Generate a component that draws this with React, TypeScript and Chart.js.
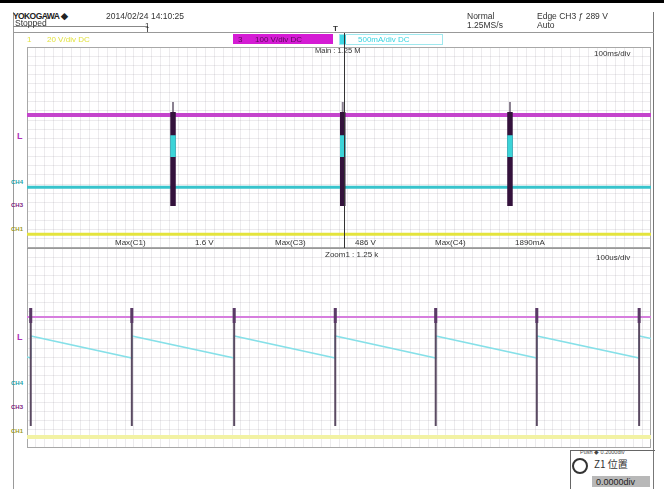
import React, { useEffect, useRef } from "react";
import { Chart, registerables } from "chart.js";
Chart.register(...registerables);

// ---- Main window (upper): time in ms, 100 ms/div ----
const mainRange = [0, 1000];
const mainSpikeTimes = [234, 506, 774];
const mainCh3Level = 1.29;
const mainCh4Level = -1.58;
const mainCh1Level = -3.45;
const mainBurstTop = 1.41;
const mainBurstBottom = -2.33;
const mainCapTop = 1.81;
const mainCh4BurstTop = 0.49;
const mainCh4BurstBottom = -0.38;

// ---- Zoom window (lower): time in us, 100 us/div ----
const zoomRange = [0, 1000];
const zoomSpikeTimes = [6, 168, 332, 494, 655, 817, 981];
const zoomCh3Level = 1.24;
const zoomSpikeTop = 1.6;
const zoomSpikeBottom = -3.12;
const zoomSpikeHeadBottom = 1.0;
const zoomCh1Level = -3.56;
const zoomCh4Times = [0, 6, 6, 168, 168, 332, 332, 494, 494, 655, 655, 817, 817, 981, 981, 1000];
const zoomCh4Values = [-0.36, -0.4, 0.48, -0.4, 0.48, -0.4, 0.48, -0.4, 0.48, -0.4, 0.48, -0.4, 0.48, -0.4, 0.48, 0.38];

// ---- Measurements ----
const measureNames = ["Max(C1)", "Max(C3)", "Max(C4)"];
const measureValues = ["1.6 V", "486 V", "1890mA"];

const flat = (range: number[], y: number) => [
  { x: range[0], y },
  { x: range[1], y },
];
const verticals = (times: number[], top: number, bottom: number) =>
  times.flatMap((t) => [
    { x: t, y: top },
    { x: t, y: bottom },
    { x: t, y: null as any },
  ]);

const framePlugin = {
  id: "frame",
  beforeDatasetsDraw(chart: any) {
    const { ctx, chartArea } = chart;
    const { left, top, right, bottom } = chartArea;
    ctx.save();
    ctx.strokeStyle = "#a8a8a8";
    ctx.lineWidth = 1;
    ctx.strokeRect(left + 0.5, top + 0.5, right - left - 1, bottom - top - 1);
    ctx.restore();
  },
};

function makeOptions(range: number[]) {
  return {
    responsive: false,
    maintainAspectRatio: false,
    animation: false as const,
    layout: { padding: 0 },
    plugins: { legend: { display: false }, tooltip: { enabled: false } },
    elements: { point: { radius: 0 }, line: { tension: 0 } },
    scales: {
      x: {
        type: "linear" as const,
        min: range[0],
        max: range[1],
        ticks: { display: false, count: 71 },
        grid: { color: "rgba(120,110,130,0.14)", drawTicks: false },
        border: { display: false },
      },
      y: {
        type: "linear" as const,
        min: -4,
        max: 4,
        ticks: { display: false, count: 23 },
        grid: { color: "rgba(120,110,130,0.14)", drawTicks: false },
        border: { display: false },
      },
    },
  };
}

// "order": higher value is drawn first (underneath)
function line(data: any[], color: string, width: number, order: number) {
  return {
    data,
    order,
    borderColor: color,
    backgroundColor: color,
    borderWidth: width,
    pointRadius: 0,
    spanGaps: false,
    fill: false,
  };
}

function Panel({ left, top, width, height, datasets, range }: any) {
  const ref = useRef<HTMLCanvasElement>(null);
  useEffect(() => {
    const chart = new Chart(ref.current!, {
      type: "line",
      data: { datasets },
      options: makeOptions(range) as any,
      plugins: [framePlugin],
    });
    return () => chart.destroy();
  }, []);
  return (
    <canvas
      ref={ref}
      width={width}
      height={height}
      style={{ position: "absolute", left, top, width, height }}
    />
  );
}

function T({ x, y, children, size = 8.5, color = "#333", style = {} }: any) {
  return (
    <div
      style={{
        position: "absolute",
        left: x,
        top: y,
        fontSize: size,
        lineHeight: 1,
        color,
        whiteSpace: "nowrap",
        fontFamily: "'Liberation Sans', Arial, sans-serif",
        zIndex: 3,
        ...style,
      }}
    >
      {children}
    </div>
  );
}

function Box({ x, y, w, h, style = {} }: any) {
  return (
    <div
      style={{ position: "absolute", left: x, top: y, width: w, height: h, zIndex: 2, ...style }}
    />
  );
}

export default function App() {
  const mainDatasets = [
    line(flat(mainRange, mainCh1Level), "#e4e43c", 3, 6),
    line(flat(mainRange, mainCh4Level), "#38c4cc", 3, 5),
    line(flat(mainRange, mainCh3Level), "#c444cc", 4, 4),
    line(verticals(mainSpikeTimes, mainCapTop, mainBurstTop), "#8a8090", 2, 3),
    line(verticals(mainSpikeTimes, mainBurstTop, mainBurstBottom), "#34123c", 5.5, 2),
    line(verticals(mainSpikeTimes, mainCh4BurstTop, mainCh4BurstBottom), "#3cd4d8", 5.5, 1),
  ];
  const zoomDatasets = [
    line(flat(zoomRange, zoomCh1Level), "#f2f2a4", 4, 6),
    line(
      zoomCh4Times.map((t, i) => ({ x: t, y: zoomCh4Values[i] })),
      "#86e0e8",
      1.5,
      5
    ),
    line(flat(zoomRange, zoomCh3Level), "#d67ede", 2, 4),
    line(verticals(zoomSpikeTimes, zoomSpikeTop, zoomSpikeBottom), "#5a4a62", 2, 3),
    line(verticals(zoomSpikeTimes, zoomSpikeTop, zoomSpikeHeadBottom), "#5a3a66", 3, 2),
  ];

  return (
    <div
      style={{
        position: "absolute",
        left: 0,
        top: 0,
        width: 664,
        height: 489,
        background: "#fff",
        overflow: "hidden",
      }}
    >
      {/* frame lines */}
      <Box x={0} y={0} w={664} h={3} style={{ background: "#000" }} />
      <Box x={13} y={12} w={1} h={477} style={{ background: "#9a9a9a" }} />
      <Box x={653} y={12} w={1} h={477} style={{ background: "#777" }} />
      <Box x={13} y={26} w={134} h={1} style={{ background: "#888" }} />
      <Box x={13} y={32} w={641} h={1} style={{ background: "#999" }} />
      <Box x={147} y={26} w={1} h={6} style={{ background: "#555" }} />

      {/* header */}
      <T x={13} y={11.5} size={8.5} color="#222" style={{ fontWeight: "bold", letterSpacing: -0.6 }}>
        YOKOGAWA ◆
      </T>
      <T x={106} y={11.5} size={8.5}>2014/02/24 14:10:25</T>
      <T x={15} y={18.5} size={8.5}>Stopped</T>
      <T x={145} y={22} size={8}>1</T>
      <T x={467} y={11.5} size={8.5}>Normal</T>
      <T x={467} y={21} size={8.5}>1.25MS/s</T>
      <T x={537} y={11.5} size={8.5}>Edge CH3 ƒ 289 V</T>
      <T x={537} y={21} size={8.5}>Auto</T>
      <T x={333} y={25} size={8} style={{ fontWeight: "bold" }}>T</T>

      {/* channel labels */}
      <T x={27} y={36} size={8} color="#e2e240">1</T>
      <T x={47} y={36} size={8} color="#e2e240">20 V/div DC</T>
      <Box x={233} y={34} w={100} h={10} style={{ background: "#d41cd4" }} />
      <T x={238} y={35.5} size={8} color="#5a0a5a">3</T>
      <T x={255} y={35.5} size={8} color="#5a0a5a">100 V/div DC</T>
      <Box x={339} y={34} w={102} h={9} style={{ border: "1px solid #9fe8ee" }} />
      <Box x={340} y={35} w={6} h={9} style={{ background: "#40d8e4" }} />
      <T x={358} y={35.5} size={8} color="#38d4e0">500mA/div DC</T>

      {/* panels */}
      <Panel left={27} top={47} width={624} height={201} datasets={mainDatasets} range={mainRange} />
      <Panel left={27} top={248} width={624} height={200} datasets={zoomDatasets} range={zoomRange} />

      {/* trigger line */}
      <Box x={344} y={33} w={1} h={215} style={{ background: "#333" }} />

      <T x={315} y={47} size={7.5}>Main : 1.25 M</T>
      <T x={594} y={50} size={8}>100ms/div</T>

      {/* measurement row */}
      <Box x={27} y={248} w={624} h={1} style={{ background: "#999" }} />
      <T x={115} y={239} size={8}>{measureNames[0]}</T>
      <T x={195} y={239} size={8}>{measureValues[0]}</T>
      <T x={275} y={239} size={8}>{measureNames[1]}</T>
      <T x={355} y={239} size={8}>{measureValues[1]}</T>
      <T x={435} y={239} size={8}>{measureNames[2]}</T>
      <T x={515} y={239} size={8}>{measureValues[2]}</T>

      <T x={325} y={251} size={8}>Zoom1 : 1.25 k</T>
      <T x={596} y={254} size={8}>100us/div</T>

      {/* left channel markers, upper */}
      <T x={17} y={132} size={9} color="#b030b8" style={{ fontWeight: "bold" }}>L</T>
      <T x={11} y={179} size={6} color="#18a0a8" style={{ fontWeight: "bold" }}>CH4</T>
      <T x={11} y={202} size={6} color="#7a1a80" style={{ fontWeight: "bold" }}>CH3</T>
      <T x={11} y={226} size={6} color="#9a9a20" style={{ fontWeight: "bold" }}>CH1</T>
      {/* left channel markers, lower */}
      <T x={17} y={333} size={9} color="#b030b8" style={{ fontWeight: "bold" }}>L</T>
      <T x={11} y={380} size={6} color="#18a0a8" style={{ fontWeight: "bold" }}>CH4</T>
      <T x={11} y={404} size={6} color="#7a1a80" style={{ fontWeight: "bold" }}>CH3</T>
      <T x={11} y={428} size={6} color="#9a9a20" style={{ fontWeight: "bold" }}>CH1</T>

      {/* bottom-right knob box */}
      <Box x={570} y={450} w={84} h={39} style={{ borderTop: "1px solid #666", borderLeft: "1px solid #666" }} />
      <T x={580} y={450} size={5.5} color="#444">Push ◆ 0.2000div</T>
      <Box x={572} y={458} w={12} h={12} style={{ border: "2px solid #333", borderRadius: "50%" }} />
      <T x={594} y={459} size={10} color="#333" style={{ fontFamily: "'Noto Sans CJK JP', sans-serif" }}>
        Z1 位置
      </T>
      <Box x={592} y={476} w={58} h={11} style={{ background: "#b8b8b8" }} />
      <T x={596} y={477.5} size={9} color="#222">0.0000div</T>
    </div>
  );
}
